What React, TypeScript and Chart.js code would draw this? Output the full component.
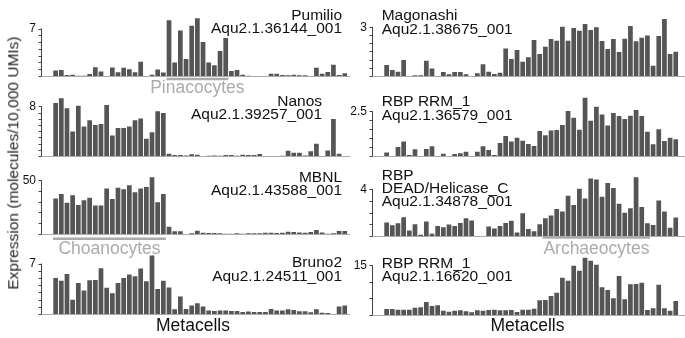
import React, { useEffect, useRef } from "react";
import { Chart, registerables } from "chart.js";

Chart.register(...registerables);

// 52 metacells, shared by every panel
const metacells = [...Array(52).keys()].map((i) => `MC${i + 1}`);

// Expression per metacell (molecules / 10,000 UMIs)
const pumilio = [
  0.8, 0.9, 0.15, 0.2, 0.05, 0.05, 0.3, 1.3, 0.65, 0, 1.25, 0.55, 1.2, 1.0, 0.55, 2.1, 0, 0.2, 0.95, 0.5,
  8.2, 2.0, 6.7, 2.5, 7.4, 8.5, 5.0, 2.0, 1.6, 3.7, 5.6,
  0.75, 0.9, 0.2, 0.05, 0, 0, 0, 0.35, 0.35, 0.15, 0.1, 0.2, 0.1, 0.1, 0, 1.2, 0.35, 0.6, 1.65, 0.15, 0.4,
];
const magonashi = [
  0.67, 0.37, 0.26, 0.97, 0, 0.04, 0.04, 0.93, 0.45, 0, 0.24, 0.1, 0.24, 0.24, 0.1, 0, 0.16, 0.71, 0.26, 0.12,
  0.2, 1.68, 1.03, 1.58, 0.87, 1.14, 2.19, 1.34, 1.78, 2.25, 2.15, 3.0, 2.15, 2.92, 2.76, 3.16, 2.8, 2.96, 2.13, 1.64,
  2.25, 1.46, 2.27, 3.04, 2.11, 2.33, 2.47, 0.63, 2.43, 3.47, 1.34, 1.48,
];
const nanos = [
  8.53, 9.28, 7.68, 3.95, 8.1, 4.75, 5.76, 5.0, 5.17, 8.2, 3.3, 4.5, 4.5, 4.75, 5.76, 6.03, 2.77, 3.84, 7.2, 6.93,
  0.37, 0.16, 0.16, 0.1, 0.27, 0.2, 0, 0.05, 0.1, 0.05, 0.16, 0.16, 0.05, 0.2, 0.16, 0.16, 0.32, 0, 0, 0,
  0.05, 0.85, 0.53, 0.53, 0.1, 0.75, 1.97, 0, 0.9, 5.97, 0.37, 0,
];
const rrm36579 = [
  0.2, 0, 0.5, 0.81, 0.06, 0.37, 0, 0.39, 0.54, 0, 0.13, 0, 0.11, 0.15, 0.24, 0, 0.24, 0.54, 0.33, 0.06,
  0.72, 1.11, 0.8, 1.02, 0.85, 0.67, 0.56, 1.39, 1.15, 1.41, 1.44, 1.72, 2.5, 2.13, 1.46, 3.24, 1.96, 2.74, 2.31, 1.69,
  2.39, 2.22, 2.06, 2.24, 2.56, 2.22, 1.35, 0.65, 1.48, 0.83, 1.02, 0.93,
];
const mbnl = [
  33.1, 37.1, 29.1, 35.9, 27.0, 31.3, 33.7, 26.4, 26.4, 42.3, 32.5, 42.9, 41.7, 45.4, 38.7, 42.3, 43.6, 52.8, 29.4, 37.1,
  6.7, 2.45, 2.45, 0, 0.6, 3.1, 1.2, 0.9, 0.9, 0.6, 0.3, 0.3, 0.6, 0.3, 0.6, 0.6, 0.6, 1.2, 1.2, 0.9,
  1.2, 2.1, 1.8, 1.5, 1.2, 1.8, 3.7, 1.5, 0.3, 0.6, 2.8, 2.8,
];
const deadHelicase = [
  1.14, 0.91, 1.09, 1.6, 0.46, 1.0, 0.11, 1.23, 0.2, 0.86, 0.74, 0.97, 0.86, 1.11, 1.51, 1.31, 0, 0, 0.8, 0.63,
  0.86, 1.11, 1.29, 0.29, 1.94, 0.6, 0.4, 1.0, 1.51, 1.74, 2.29, 2.09, 3.43, 2.63, 4.03, 3.2, 4.89, 4.8, 3.34, 4.51,
  4.09, 2.74, 1.97, 2.37, 5.0, 2.46, 1.09, 0.94, 3.03, 2.09, 0.71, 1.57,
];
const bruno2 = [
  4.99, 4.62, 5.55, 1.96, 4.29, 3.27, 4.67, 4.71, 6.35, 3.64, 2.89, 4.29, 4.99, 5.46, 5.23, 6.3, 4.53, 8.12, 3.45, 4.62,
  3.69, 0.65, 2.43, 0.7, 1.17, 1.49, 1.03, 0.47, 0.42, 0.47, 0.47, 0.42, 0.42, 0.28, 0.33, 0.28, 0.28, 0.28, 0.7, 0.47,
  0.47, 0.65, 0.56, 0.37, 0.37, 0.23, 0.65, 0.19, 0.14, 0, 1.03, 1.17,
];
const rrm16620 = [
  1.8, 1.8, 1.6, 1.6, 1.6, 2.2, 2.3, 3.9, 2.7, 2.9, 1.3, 1.0, 1.3, 1.4, 1.1, 0.8, 1.4, 1.3, 1.5, 1.6,
  1.4, 1.4, 1.5, 0.9, 1.6, 1.6, 1.9, 4.4, 4.5, 5.7, 6.7, 11.2, 10.3, 14.8, 13.3, 17.2, 16.3, 15.1, 8.3, 7.5,
  5.0, 11.7, 4.7, 9.2, 9.3, 9.7, 1.5, 2.0, 9.1, 2.0, 1.3, 4.2,
];

const panelSeries = [pumilio, magonashi, nanos, rrm36579, mbnl, deadHelicase, bruno2, rrm16620];

// Labelled top tick of each y axis, and the spacing of its minor ticks
const topTicks = [7, 3, 8, 2.5, 50, 4, 7, 15];
const tickSteps = [1, 0.5, 1, 0.5, 10, 1, 1, 5];

const geneLabels = [
  ["Pumilio", "Aqu2.1.36144_001"],
  ["Magonashi", "Aqu2.1.38675_001"],
  ["Nanos", "Aqu2.1.39257_001"],
  ["RBP RRM_1", "Aqu2.1.36579_001"],
  ["MBNL", "Aqu2.1.43588_001"],
  ["RBP", "DEAD/Helicase_C", "Aqu2.1.34878_001"],
  ["Bruno2", "Aqu2.1.24511_001"],
  ["RBP RRM_1", "Aqu2.1.16620_001"],
];

// Cell-type groups: name, panel it is marked under, first and last metacell
const cellTypeNames = ["Pinacocytes", "Choanocytes", "Archaeocytes"];
const cellTypePanels = [0, 4, 5];
const cellTypeRanges = [
  [20, 30],
  [0, 19],
  [28, 46],
];

const yTitle = "Expression (molecules/10,000 UMIs)";
const xTitle = "Metacells";

// ---- layout (page pixels) ----
const FONT = '"Liberation Sans", Arial, Helvetica, sans-serif';
const BAR = "#555555";
const GREY = "#ababab";

const COLS = [
  { canvasLeft: 0, canvasWidth: 350, axisX: 40.5, areaLeft: 52.8, areaRight: 347.6, lineEnd: 350 },
  { canvasLeft: 345, canvasWidth: 340, axisX: 372, areaLeft: 383.8, areaRight: 678.6, lineEnd: 685 },
];

const PANELS = [
  { col: 0, tickY: 28.5, baseY: 76, labelX: 342, labelY: 15, align: "right" },
  { col: 1, tickY: 26.7, baseY: 76, labelX: 381.7, labelY: 15.5, align: "left" },
  { col: 0, tickY: 106, baseY: 155.7, labelX: 322, labelY: 100.5, align: "right" },
  { col: 1, tickY: 111, baseY: 156, labelX: 381.7, labelY: 101.5, align: "left" },
  { col: 0, tickY: 180.5, baseY: 234.3, labelX: 342, labelY: 177.5, align: "right" },
  { col: 1, tickY: 189, baseY: 236, labelX: 381.7, labelY: 175, align: "left" },
  { col: 0, tickY: 263.5, baseY: 314, labelX: 342, labelY: 262.5, align: "right" },
  { col: 1, tickY: 265, baseY: 315, labelX: 381.7, labelY: 263, align: "left" },
];

// offsets below the baseline for each group bracket and its name
const CELLTYPE_OFFSETS = [
  { line: 3, text: 12 },
  { line: 4.7, text: 15 },
  { line: 1.5, text: 13.5 },
];

const ABOVE = 76; // canvas top sits this far above the baseline
const BELOW = 26; // and extends this far below it
const LINE_GAP = 13.3;

function Panel({ index }: { index: number }) {
  const ref = useRef<HTMLCanvasElement | null>(null);
  const p = PANELS[index];
  const col = COLS[p.col];
  const canvasTop = p.baseY - ABOVE;
  const height = ABOVE + BELOW;

  useEffect(() => {
    if (!ref.current) return;
    const top = topTicks[index];
    const step = tickSteps[index];
    const pxPerUnit = (p.baseY - p.tickY) / top;
    const yMax = (ABOVE - 2) / pxPerUnit;
    const ct = cellTypePanels.indexOf(index);

    const decorations = {
      id: "panelDecor" + index,
      beforeDatasetsDraw(chart: any) {
        const ctx = chart.ctx;
        const ys = chart.scales.y;
        const y0 = ys.getPixelForValue(0);
        ctx.save();
        ctx.strokeStyle = GREY;
        ctx.lineWidth = 1;
        ctx.beginPath();
        ctx.moveTo(col.axisX - col.canvasLeft, y0 + 0.5);
        ctx.lineTo(col.lineEnd - col.canvasLeft, y0 + 0.5);
        ctx.stroke();
        ctx.restore();
      },
      afterDraw(chart: any) {
        const ctx = chart.ctx;
        const xs = chart.scales.x;
        const ys = chart.scales.y;
        const ax = Math.round(col.axisX - col.canvasLeft) + 0.5;
        ctx.save();
        // y axis: line up to the labelled tick, minor ticks, top label
        ctx.strokeStyle = "#444";
        ctx.lineWidth = 1;
        const yTop = ys.getPixelForValue(top);
        const y0 = ys.getPixelForValue(0);
        ctx.beginPath();
        ctx.moveTo(ax, y0);
        ctx.lineTo(ax, yTop);
        for (let v = 0; v <= top + 1e-9; v += step) {
          const py = Math.round(ys.getPixelForValue(v)) + 0.5;
          ctx.moveTo(ax - 3, py);
          ctx.lineTo(ax, py);
        }
        ctx.stroke();
        ctx.fillStyle = "#111";
        ctx.font = `12px ${FONT}`;
        ctx.textAlign = "right";
        ctx.textBaseline = "middle";
        ctx.fillText(String(top), ax - 5.5, yTop + 0.5);

        // gene name lines
        ctx.font = `15.5px ${FONT}`;
        ctx.textAlign = p.align as CanvasTextAlign;
        const lx = p.labelX - col.canvasLeft;
        geneLabels[index].forEach((t, k) => {
          ctx.fillText(t, lx, p.labelY - canvasTop + k * LINE_GAP + 0.5);
        });

        // cell-type bracket
        if (ct >= 0) {
          const [a, b] = cellTypeRanges[ct];
          const half = (xs.getPixelForValue(1) - xs.getPixelForValue(0)) * 0.46;
          const x1 = xs.getPixelForValue(a) - half;
          const x2 = xs.getPixelForValue(b) + half;
          const off = CELLTYPE_OFFSETS[ct];
          ctx.strokeStyle = GREY;
          ctx.lineWidth = 2.6;
          ctx.beginPath();
          ctx.moveTo(x1, y0 + off.line);
          ctx.lineTo(x2, y0 + off.line);
          ctx.stroke();
          ctx.fillStyle = GREY;
          ctx.font = `17.5px ${FONT}`;
          ctx.textAlign = "center";
          ctx.fillText(cellTypeNames[ct], (x1 + x2) / 2, y0 + off.text);
        }
        ctx.restore();
      },
    };

    const chart = new Chart(ref.current, {
      type: "bar",
      data: {
        labels: metacells,
        datasets: [
          {
            data: panelSeries[index],
            backgroundColor: BAR,
            borderWidth: 0,
            barPercentage: 0.83,
            categoryPercentage: 1,
          },
        ],
      },
      options: {
        animation: false,
        responsive: false,
        devicePixelRatio: 1,
        events: [],
        layout: {
          padding: {
            left: col.areaLeft - col.canvasLeft,
            right: col.canvasLeft + col.canvasWidth - col.areaRight,
            top: 2,
            bottom: BELOW,
          },
        },
        plugins: { legend: { display: false }, tooltip: { enabled: false }, title: { display: false } },
        scales: {
          x: { type: "category", display: false, offset: true },
          y: { type: "linear", display: false, min: 0, max: yMax },
        },
      },
      plugins: [decorations],
    } as any);
    return () => chart.destroy();
  }, [index]);

  return (
    <canvas
      ref={ref}
      width={col.canvasWidth}
      height={height}
      style={{
        position: "absolute",
        left: col.canvasLeft,
        top: canvasTop,
        width: col.canvasWidth,
        height,
      }}
    />
  );
}

export default function App() {
  return (
    <div
      style={{
        position: "absolute",
        left: 0,
        top: 0,
        width: 685,
        height: 338,
        overflow: "hidden",
        background: "#fff",
        fontFamily: FONT,
      }}
    >
      {PANELS.map((_, i) => (
        <Panel key={i} index={i} />
      ))}
      <div
        style={{
          position: "absolute",
          left: 13,
          top: 163,
          transform: "translate(-50%, -50%) rotate(-90deg)",
          whiteSpace: "nowrap",
          fontSize: 15.5,
          fontWeight: 400,
          color: "#222",
          lineHeight: 1,
        }}
      >
        {yTitle}
      </div>
      {[193, 527.5].map((cx, i) => (
        <div
          key={i}
          style={{
            position: "absolute",
            left: cx,
            top: 325.5,
            transform: "translate(-50%, -50%)",
            whiteSpace: "nowrap",
            fontSize: 17.5,
            color: "#111",
            lineHeight: 1,
          }}
        >
          {xTitle}
        </div>
      ))}
    </div>
  );
}
